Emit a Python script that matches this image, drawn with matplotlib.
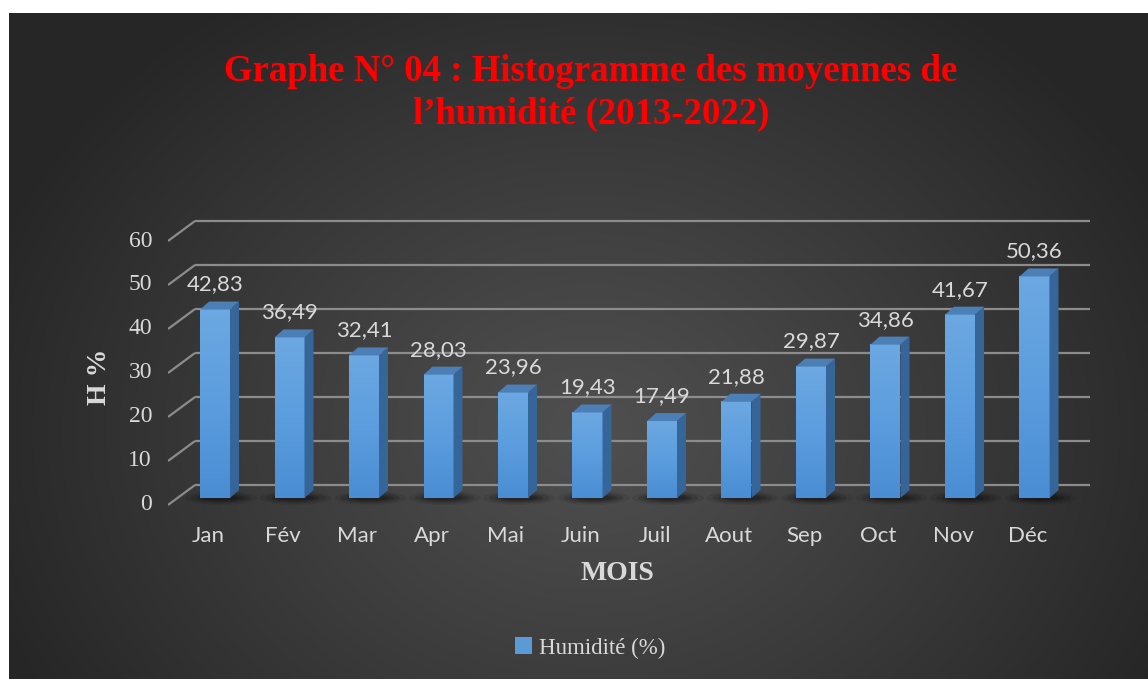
import numpy as np
import matplotlib
matplotlib.use("Agg")
import matplotlib.pyplot as plt
from matplotlib.patches import Polygon, Rectangle, Ellipse
from matplotlib.colors import LinearSegmentedColormap

# ---- data ----
months = ['Jan', 'Fév', 'Mar', 'Apr', 'Mai', 'Juin', 'Juil', 'Aout', 'Sep', 'Oct', 'Nov', 'Déc']
humidity = [42.83, 36.49, 32.41, 28.03, 23.96, 19.43, 17.49, 21.88, 29.87, 34.86, 41.67, 50.36]
yticks = [0, 10, 20, 30, 40, 50, 60]
title = "Graphe N° 04 : Histogramme des moyennes de\nl’humidité (2013-2022)"
xlabel = "MOIS"
ylabel = "H %"
series_name = "Humidité (%)"

SERIF = "Liberation Serif"
SANS = "Lato"
TXT = "#d9d9d9"

W, H = 1148, 679
fig = plt.figure(figsize=(W / 100, H / 100), dpi=100)
fig.patch.set_facecolor("white")

# ---- background (radial gradient) ----
bg = fig.add_axes([0, 0, 1, 1])
bg.set_xlim(0, W)
bg.set_ylim(H, 0)
bg.axis("off")
yy, xx = np.mgrid[13:H, 9:W]
r = np.sqrt(((xx - 590) / 640.0) ** 2 + ((yy - 430) / 520.0) ** 2)
t = np.clip(r, 0, 1) ** 1.1
val = 0.31 - (0.31 - 0.150) * t
img = np.dstack([val, val, val])
bg.imshow(img, extent=(9, W, H, 13), aspect="auto", interpolation="bilinear", zorder=0)

# ---- main axes ----
L, R, B, T = 168, 1095, 510, 215
X0PX, DXPX = 215.0, 74.5      # bar centre of first bar, spacing in px
Y0PX, DYPX = 498.0, 4.4       # baseline px, px per unit
ax = fig.add_axes([L / W, (H - B) / H, (R - L) / W, (B - T) / H])
xlim = ((L - X0PX) / DXPX, (R - X0PX) / DXPX)
ylim = ((Y0PX - B) / DYPX, (Y0PX - T) / DYPX)
ax.axis("off")
ax.patch.set_alpha(0)
PX, PY = 1 / DXPX, 1 / DYPX
x0 = xlim[0]
xR = (1090 - X0PX) / DXPX

# gridlines (3D wall)
for v in yticks:
    ax.plot([x0, x0 + 27 * PX], [v - 7 * PY, v + 13 * PY], color="#8c8c8c", lw=1.6, zorder=1,
            solid_capstyle="butt")
    ax.plot([x0 + 27 * PX, xR], [v + 13 * PY, v + 13 * PY], color="#8c8c8c", lw=1.6, zorder=1,
            solid_capstyle="butt")
    ax.text((152 - X0PX) / DXPX, v - 7 * PY, str(v), ha="right", va="center",
            fontsize=17, family=SERIF, color=TXT)

idx = np.arange(len(months))
w = 30 * PX
dx, dy = 9 * PX, 8 * PY

# shadows
for xi in idx:
    for (ew, eh, a) in [(72, 14, 0.08), (60, 11, 0.12), (48, 8, 0.16), (38, 5, 0.2)]:
        ax.add_patch(Ellipse((xi + 6 * PX, 0), ew * PX, eh * PY, color="black",
                             alpha=a, lw=0, zorder=2))

bars = ax.bar(idx, humidity, width=w, color="#5b9bd5", zorder=3, lw=0)
front_cmap = LinearSegmentedColormap.from_list("f", ["#4a8dd3", "#5b9dde", "#6ca8e2"])
grad = np.linspace(0, 1, 100).reshape(-1, 1)
for xi, v in zip(idx, humidity):
    ax.imshow(grad, extent=(xi - w / 2, xi + w / 2, 0, v), origin="lower", cmap=front_cmap,
              aspect="auto", zorder=3.1)
    side = Polygon([(xi + w / 2, 0), (xi + w / 2 + dx, dy), (xi + w / 2 + dx, v + dy),
                    (xi + w / 2, v)], closed=True, facecolor="#36659a", lw=0, zorder=3.2)
    top = Polygon([(xi - w / 2, v), (xi + w / 2, v), (xi + w / 2 + dx, v + dy),
                   (xi - w / 2 + dx, v + dy)], closed=True, facecolor="#4b7fb6", lw=0, zorder=3.2)
    ax.add_patch(side)
    ax.add_patch(top)
    ax.text(xi, v + 25 * PY, f"{v:.2f}".replace(".", ","), ha="center", va="center",
            fontsize=16, family=SANS, color=TXT, zorder=5)
    ax.text(xi - 7 * PX, (Y0PX - 536) / DYPX, months[xi], ha="center", va="center",
            fontsize=16, family=SANS, color=TXT)

ax.set_xlim(*xlim)
ax.set_ylim(*ylim)

# ---- labels ----
fig.text(99 / W, 1 - 377 / H, ylabel, rotation=90, ha="center", va="center",
         fontsize=20, fontweight="bold", family=SERIF, color=TXT)
fig.text(617 / W, 1 - 574 / H, xlabel, ha="center", va="center",
         fontsize=20, fontweight="bold", family=SERIF, color=TXT)
fig.text(591 / W, 1 - 93 / H, title, ha="center", va="center", fontsize=26.5,
         fontweight="bold", family=SERIF, color="#ff0000", linespacing=1.28)

# ---- legend ----
handle = Rectangle((0, 0), 1, 1, facecolor="#5b9bd5", edgecolor="none")
fig.legend([handle], [series_name], loc="center", bbox_to_anchor=(590 / W, 1 - 648 / H),
           frameon=False, prop={"family": SERIF, "size": 16.5}, labelcolor=TXT,
           handlelength=0.75, handleheight=0.75, handletextpad=0.3)

fig.savefig("out.png", dpi=100)
